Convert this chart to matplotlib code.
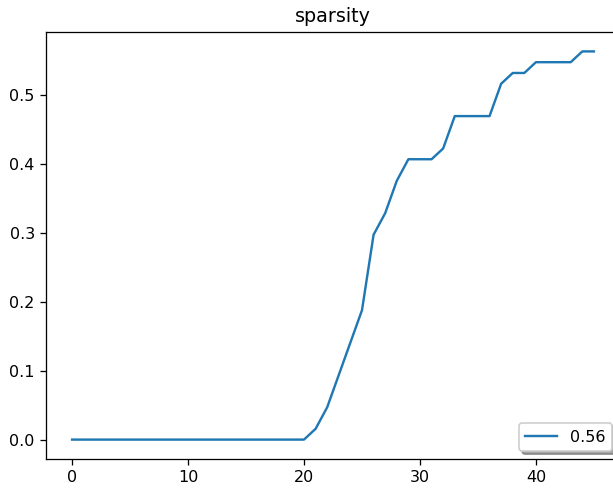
import matplotlib
matplotlib.use("Agg")
import matplotlib.pyplot as plt

steps = list(range(46))
sparsity = [0.0]*21 + [1/64, 3/64, 6/64, 9/64, 12/64, 19/64, 21/64, 24/64,
                       26/64, 26/64, 26/64, 27/64, 30/64, 30/64, 30/64, 30/64,
                       33/64, 34/64, 34/64, 35/64, 35/64, 35/64, 35/64, 36/64, 36/64]
label = "0.56"
title = "sparsity"

dpi = 115
fig = plt.figure(figsize=(613/dpi, 489/dpi), dpi=dpi)
ax = fig.add_axes([46/613, 1-459/489, 574/613, 427/489])
ax.plot(steps, sparsity, label=label)
ax.set_title(title)
ax.legend(loc="lower right", shadow=True)
fig.savefig("out.png", dpi=dpi)
